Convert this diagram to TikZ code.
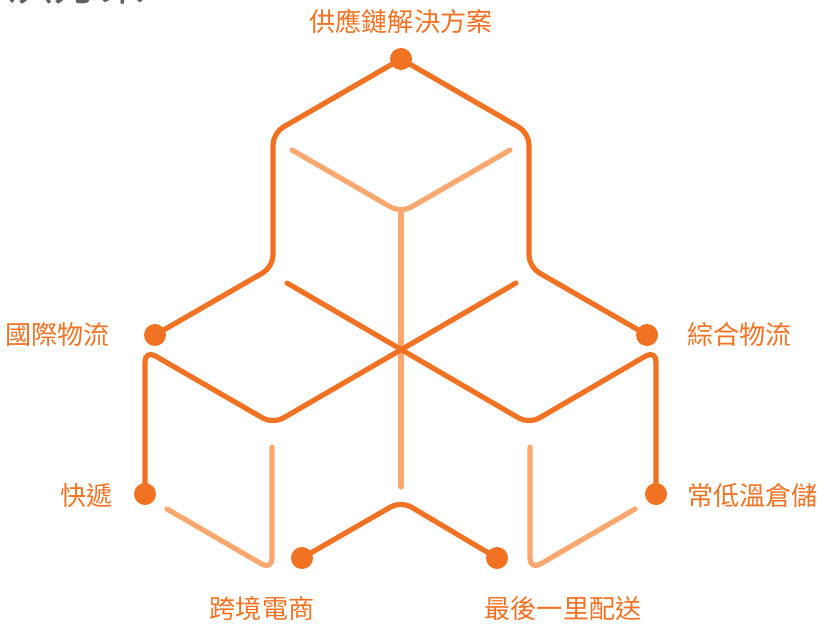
\documentclass[tikz,border=0pt]{standalone}
\usepackage{fontspec}
\setmainfont{Noto Sans CJK TC}
\usetikzlibrary{positioning}
\definecolor{DarkOrange}{RGB}{241,114,34}
\definecolor{LightOrange}{RGB}{250,168,112}
\definecolor{TitleGray}{RGB}{95,95,95}

\begin{document}
\begin{tikzpicture}[x=0.03cm,y=-0.03cm,
		dark/.style={DarkOrange, line width=4.4pt, rounded corners=10pt, line cap=round},
		light/.style={LightOrange, line width=4.4pt, rounded corners=10pt, line cap=round},
		tag/.style={text=DarkOrange, font=\fontsize{22.3pt}{25pt}\selectfont, inner sep=0pt}]
					\pgfmathsetmacro{\DotRadius}{11}
					\useasboundingbox (0,0) rectangle (823,623);
					% TITLE (cut off at the top)
					\node[anchor=base east, text=TitleGray, font=\fontsize{40pt}{44pt}\selectfont, inner sep=0pt] (Title) at (147,1) {解決方案};
					% DOTS
					\coordinate (Supply) at (401,59);
					\coordinate (Intl) at (155,335);
					\coordinate (Integ) at (647,335);
					\coordinate (Express) at (145,494);
					\coordinate (ColdChain) at (656,494);
					\coordinate (CrossBorder) at (302,558);
					\coordinate (LastMile) at (497,558);
					% LIGHT
					\draw[light] (292,150) -- (401,213) -- (510,150);
					\draw[light] (401,213) -- (401,487);
					\draw[light] (167,509) -- (272,570) -- (272,447);
					\draw[light] (530,447) -- (530,570) -- (635,509);
					% DARK
					\draw[dark] (Intl) -- (273,267) -- (273,133) -- (Supply) -- (529,133) -- (529,267) -- (Integ);
					\draw[dark] (Express) -- (145,350) -- (273,424) -- (516,283);
					\draw[dark] (287,283) -- (529,424) -- (656,350) -- (ColdChain);
					\draw[dark] (CrossBorder) -- (401,501) -- (LastMile);
					\foreach \d in {Supply,Intl,Integ,Express,ColdChain,CrossBorder,LastMile}
						\fill[DarkOrange] (\d) circle (\DotRadius);
					% LABELS
					\node[tag] (SupplyTag) at (401,21) {供應鏈解決方案};
					\node[tag, anchor=east] (IntlTag) at (110,335) {國際物流};
					\node[tag, anchor=west] (IntegTag) at (687,335) {綜合物流};
					\node[tag, anchor=east] (ExpressTag) at (113,496) {快遞};
					\node[tag, anchor=west] (ColdChainTag) at (687,495) {常低溫倉儲};
					\node[tag] (CrossBorderTag) at (262,609) {跨境電商};
					\node[tag] (LastMileTag) at (563,609) {最後一里配送};
				\end{tikzpicture}
\end{document}
